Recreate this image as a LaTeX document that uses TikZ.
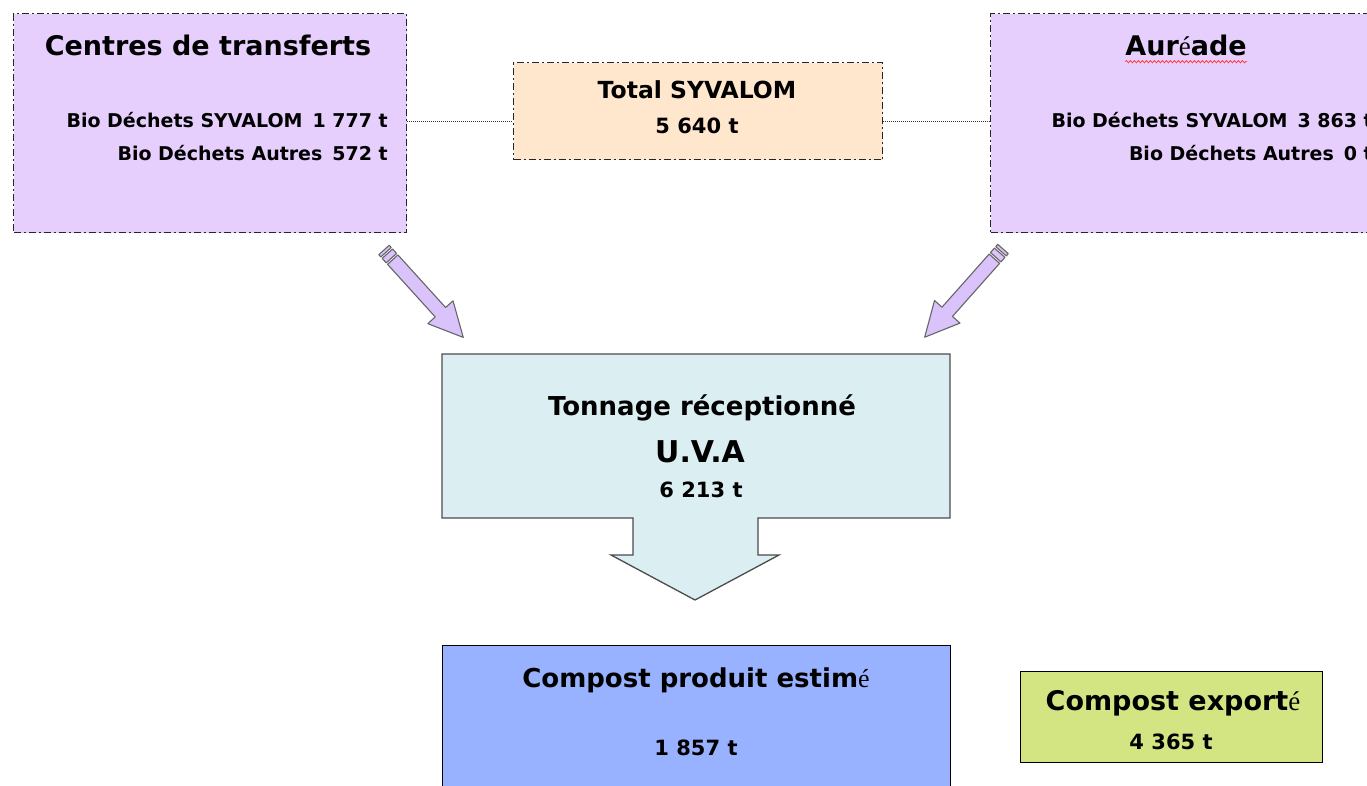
\documentclass[tikz,border=0pt]{standalone}
\usepackage{fontspec}
\setmainfont{DejaVu Sans}
\newfontfamily\serifE{Liberation Serif}
\usetikzlibrary{decorations.pathmorphing}
\definecolor{lav}{RGB}{230,207,253}
\definecolor{peach}{RGB}{255,231,206}
\definecolor{callc}{RGB}{219,238,242}
\definecolor{bluec}{RGB}{153,178,255}
\definecolor{greenc}{RGB}{211,229,131}
\definecolor{arrowc}{RGB}{218,194,250}
\begin{document}
\begin{tikzpicture}[x=1pt,y=1pt,
  ddbox/.style={draw=black!85, line width=1.2pt, dash pattern=on 7pt off 3pt on 2pt off 3pt, inner sep=0pt, anchor=north west},
  plainbox/.style={draw=black, line width=1pt, inner sep=0pt, anchor=north west},
  ttl/.style={font=\fontsize{27}{31}\selectfont\bfseries, inner sep=0pt},
  ttlb/.style={font=\fontsize{26}{30}\selectfont\bfseries, inner sep=0pt},
  big/.style={font=\fontsize{30}{34}\selectfont\bfseries, inner sep=0pt},
  sub/.style={font=\fontsize{23.5}{27}\selectfont\bfseries, inner sep=0pt},
  body/.style={font=\fontsize{19}{23}\selectfont\bfseries, inner sep=0pt},
  num/.style={font=\fontsize{21}{25}\selectfont\bfseries, inner sep=0pt},
  pencil/.style={fill=arrowc, draw=black!60, line width=1.1pt, line join=round},
  link/.style={draw=black!80, line width=1.2pt, dash pattern=on 1pt off 1pt}]
\useasboundingbox (0,0) rectangle (1367,-786);
\fill[white] (0,0) rectangle (1367,-786);

% top left box
\node[ddbox, fill=lav, minimum width=393pt, minimum height=219pt] (ct) at (13,-13) {};
\node[ttl] (ctT) at (208,-45) {Centres de transferts};
\node[body, anchor=east] (ct1) at (388,-120) {Bio Déchets SYVALOM\hspace{10pt}1 777 t};
\node[body, anchor=east] (ct2) at (388,-153) {Bio Déchets Autres\hspace{10pt}572 t};

% total box
\node[ddbox, fill=peach, minimum width=369pt, minimum height=97pt] (tot) at (513,-62) {};
\node[sub] (totT) at (697,-90) {Total SYVALOM};
\node[num] (totN) at (697,-126) {5 640 t};

% top right box
\node[ddbox, fill=lav, minimum width=395pt, minimum height=219pt] (au) at (990,-13) {};
\node[ttl] (auT) at (1186,-45) {Aur{\serifE\mdseries é}ade};
\draw[red!75, line width=0.8pt, decorate, decoration={snake, amplitude=1.2pt, segment length=4pt}]
  ([yshift=-6pt]auT.south west) -- ([yshift=-6pt]auT.south east);
\node[body, anchor=east] (au1) at (1373,-120) {Bio Déchets SYVALOM\hspace{10pt}3 863 t};
\node[body, anchor=east] (au2) at (1373,-153) {Bio Déchets Autres\hspace{10pt}0 t};

% dotted links
\draw[link] ([yshift=1.5pt]ct.east) -- ([yshift=1.5pt]ct.east -| tot.west);
\draw[link] ([yshift=1.5pt]au.west) -- ([yshift=1.5pt]au.west -| tot.east);

% pencil arrows
\coordinate (la) at (384,-250);
\coordinate (ra) at (1003,-249);
\begin{scope}[shift={(la)}, rotate=-47.8]
  \filldraw[pencil] (0,-7) rectangle (3,7);
  \filldraw[pencil] (5,-7) rectangle (11,7);
  \filldraw[pencil] (13,-7) -- (84,-7) -- (84,-17) -- (118,0) -- (84,17) -- (84,7) -- (13,7) -- cycle;
\end{scope}
\begin{scope}[shift={(ra)}, rotate=-131.6]
  \filldraw[pencil] (0,-7) rectangle (3,7);
  \filldraw[pencil] (5,-7) rectangle (11,7);
  \filldraw[pencil] (13,-7) -- (84,-7) -- (84,-17) -- (118,0) -- (84,17) -- (84,7) -- (13,7) -- cycle;
\end{scope}

% callout
\filldraw[fill=callc, draw=black!70, line width=1.3pt, line join=miter]
  (442,-354) -- (950,-354) -- (950,-518) -- (758,-518) -- (758,-555) -- (779,-555)
  -- (695,-600) -- (611,-555) -- (633,-555) -- (633,-518) -- (442,-518) -- cycle;
\node[ttlb] (uvaT) at (702,-408) {Tonnage réceptionné};
\node[big] (uvaU) at (700,-452) {U.V.A};
\node[num] (uvaN) at (701,-490) {6 213 t};

% bottom boxes
\node[plainbox, fill=bluec, minimum width=508pt, minimum height=160pt] (cp) at (442,-645) {};
\node[ttlb] (cpT) at (696,-680) {Compost produit estim{\serifE\mdseries é}};
\node[num] (cpN) at (696,-748) {1 857 t};

\node[plainbox, fill=greenc, minimum width=302pt, minimum height=91pt] (ce) at (1020,-671) {};
\node[ttl] (ceT) at (1173,-703) {Compost export{\serifE\mdseries é}};
\node[num] (ceN) at (1171,-742) {4 365 t};
\end{tikzpicture}
\end{document}
